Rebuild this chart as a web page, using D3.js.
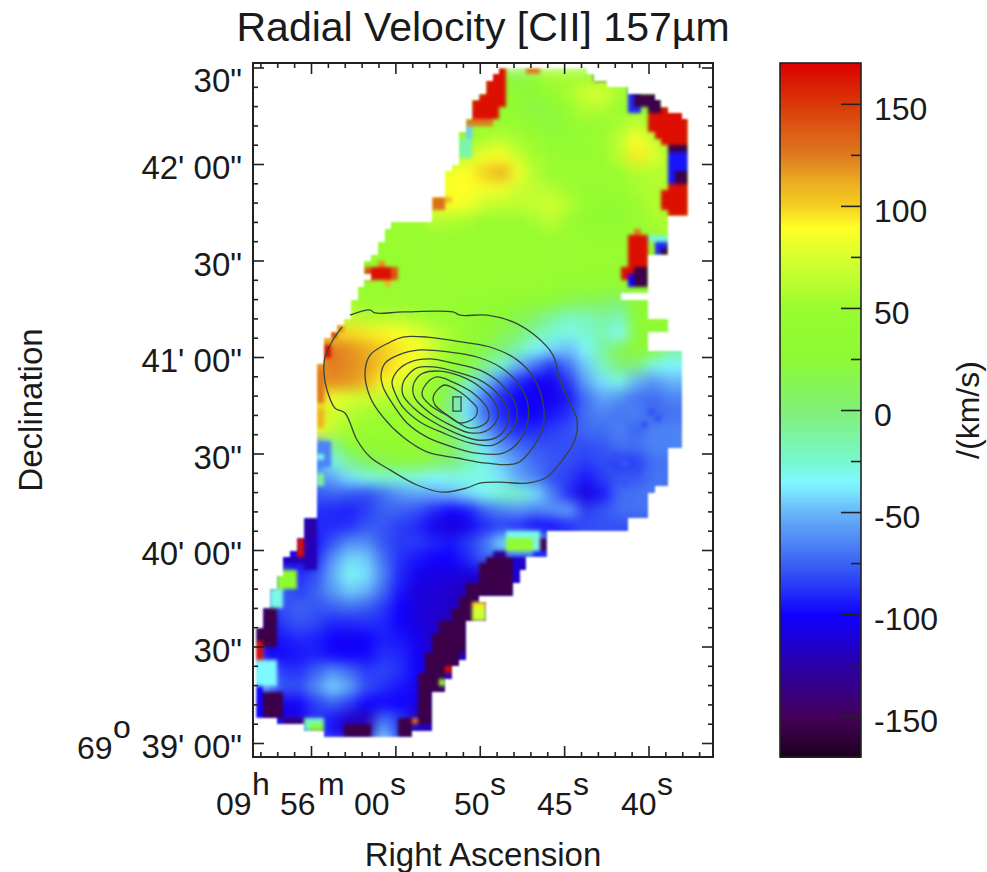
<!DOCTYPE html>
<html>
<head>
<meta charset="utf-8">
<script src="https://cdn.jsdelivr.net/npm/d3@7"></script>
<style>
  html, body { margin: 0; padding: 0; background: #fff; }
  text { font-family: "Liberation Sans", Arial, sans-serif; fill: #1a1a1a; }
</style>
</head>
<body>
<svg id="chart" width="987" height="872"></svg>
<script>
// colour table (km/s -> colour)
const colourStops = [-170, -150, -125, -100, -75, -50, -35, -25, 0, 25, 50, 75, 90, 100, 110, 125, 150, 170];
const colourValues = ["#1c001c", "#450058", "#2a00a8", "#1000ff", "#3a62f2", "#68b4f8", "#80f8ff", "#78f8d0", "#80f078", "#8cfa34", "#98fc30", "#d8ff30", "#ffff25", "#f4d020", "#eeb422", "#e07a20", "#d93a08", "#dd0000"];

const barTicks = [-150, -100, -50, 0, 50, 100, 150];
const barMinorTicks = [-125, -75, -25, 25, 75, 125];

// axis ticks: RA in seconds past 09h55m, Dec in arcsec past 69d39'
const raMajor = [60, 55, 50, 45, 40];
const decMajor = [0, 30, 60, 90, 120, 150, 180, 210];
const raTickLabels = [
    { ra: 60, parts: [["09", 0], ["h", 1], ["56", 0], ["m", 1], ["00", 0], ["s", 1]] },
    { ra: 50, parts: [["50", 0], ["s", 1]] },
    { ra: 45, parts: [["45", 0], ["s", 1]] },
    { ra: 40, parts: [["40", 0], ["s", 1]] }
];
const decTickLabels = ["39' 00\"", "30\"", "40' 00\"", "30\"", "41' 00\"", "30\"", "42' 00\"", "30\""];

// smooth part of the velocity map, cells of 1s x 5", top row first
const velocityField = [
    [45,45,45,45,45,45,45,45,45,45,45,45,45,45,40,15,40,55,55,50,45,45,45,45,45,45],
    [45,45,45,45,45,45,45,45,45,45,45,45,45,45,35,30,25,45,55,72,75,55,45,45,45,45],
    [45,45,45,45,45,45,45,45,45,45,45,45,45,45,40,40,18,30,45,62,60,50,45,45,45,45],
    [40,40,40,40,40,40,40,40,40,40,40,40,40,45,50,45,35,20,35,45,48,55,70,50,50,50],
    [50,50,50,50,50,50,50,50,50,50,50,50,50,60,65,55,50,35,35,45,50,65,90,70,55,55],
    [60,60,60,60,60,60,60,60,60,60,60,60,70,85,90,70,55,50,45,45,50,65,95,80,60,60],
    [85,85,85,85,85,85,85,85,85,85,85,85,90,100,112,85,60,50,50,50,50,50,60,60,60,60],
    [75,75,75,75,75,75,75,75,75,75,75,90,90,85,85,70,65,60,52,45,45,50,55,60,60,60],
    [80,80,80,80,80,80,80,80,80,80,80,88,85,70,65,65,68,72,60,45,35,40,50,60,60,60],
    [48,48,48,48,48,48,48,48,48,50,60,60,55,50,50,50,55,65,50,40,35,40,45,55,60,60],
    [50,50,50,50,50,50,50,50,50,50,50,50,50,48,48,48,48,48,48,48,45,45,45,50,55,55],
    [48,48,48,48,48,48,48,48,48,48,48,48,48,48,48,48,48,48,48,48,48,48,48,48,48,48],
    [48,48,48,48,48,48,48,48,48,48,48,48,48,48,48,48,48,48,48,48,48,48,48,48,48,48],
    [50,50,50,50,50,50,50,50,50,48,48,48,48,48,48,48,48,45,42,40,40,35,35,35,35,35],
    [55,55,55,55,55,55,50,50,48,48,48,48,45,45,40,35,30,25,15,15,10,5,25,35,35,35],
    [65,65,65,65,65,65,60,60,60,55,50,45,40,30,25,15,5,-10,-20,-20,-10,-20,25,35,35,35],
    [100,100,100,100,100,98,95,92,88,78,65,55,42,30,15,5,-12,-25,-30,-25,-15,-35,22,30,30,30],
    [125,125,125,125,125,120,112,102,95,88,70,50,30,15,0,-18,-35,-42,-48,-35,-12,15,25,25,-10,-10],
    [115,115,115,115,125,120,115,102,92,82,60,40,20,-5,-25,-50,-70,-88,-70,-45,-20,0,0,-30,-35,-35],
    [118,118,118,118,120,118,110,92,80,60,45,20,-15,-45,-70,-90,-100,-105,-85,-55,-40,-30,-50,-60,-50,-50],
    [105,105,105,105,85,75,70,65,60,55,35,0,-40,-70,-90,-100,-105,-105,-95,-70,-55,-60,-70,-72,-65,-65],
    [100,100,100,100,72,62,55,50,50,50,35,-5,-40,-70,-90,-98,-100,-95,-88,-70,-65,-70,-65,-75,-70,-70],
    [90,90,90,90,65,55,50,48,48,48,35,5,-25,-55,-78,-90,-90,-85,-80,-72,-72,-65,-75,-65,-65,-65],
    [-60,-60,-60,-60,-10,25,40,42,42,40,30,10,-15,-40,-60,-72,-78,-80,-80,-80,-78,-70,-70,-65,-65,-65],
    [-70,-70,-70,-70,-30,-10,8,15,20,20,10,0,-15,-30,-45,-60,-72,-78,-80,-85,-80,-85,-85,-70,-70,-70],
    [-60,-60,-60,-60,-55,-40,-30,-25,-28,-30,-35,-32,-30,-30,-40,-55,-65,-80,-85,-95,-85,-78,-78,-70,-70,-70],
    [-78,-78,-78,-78,-75,-78,-82,-72,-60,-55,-55,-50,-42,-32,-25,-22,-40,-65,-90,-110,-95,-72,-70,-68,-68,-68],
    [-88,-88,-88,-88,-90,-92,-85,-75,-75,-80,-90,-100,-95,-75,-65,-60,-65,-60,-55,-85,-78,-72,-70,-70,-70,-70],
    [-90,-90,-90,-90,-90,-88,-78,-78,-85,-90,-105,-110,-105,-90,-85,-90,-100,-100,-90,-80,-80,-80,-80,-80,-80,-80],
    [-100,-100,-100,-95,-78,-62,-62,-78,-85,-85,-90,-95,-85,-70,-40,-30,-30,-60,-80,-80,-80,-80,-80,-80,-80,-80],
    [-110,-110,-110,-90,-60,-42,-45,-70,-88,-95,-100,-100,-90,-75,-75,-75,-75,-75,-75,-75,-75,-75,-75,-75,-75,-75],
    [-80,-80,-90,-80,-52,-32,-40,-65,-90,-105,-108,-108,-110,-110,-110,-110,-110,-110,-110,-110,-110,-110,-110,-110,-110,-110],
    [-75,-75,-85,-75,-58,-45,-50,-72,-95,-110,-112,-115,-120,-120,-120,-120,-120,-120,-120,-120,-120,-120,-120,-120,-120,-120],
    [-85,-80,-75,-78,-75,-70,-75,-85,-100,-110,-112,-115,-115,-115,-115,-115,-115,-115,-115,-115,-115,-115,-115,-115,-115,-115],
    [-100,-85,-78,-82,-90,-90,-88,-90,-100,-108,-115,-125,-125,-125,-125,-125,-125,-125,-125,-125,-125,-125,-125,-125,-125,-125],
    [-110,-95,-90,-92,-100,-105,-100,-92,-95,-105,-115,-120,-120,-120,-120,-120,-120,-120,-120,-120,-120,-120,-120,-120,-120,-120],
    [-105,-98,-95,-92,-98,-100,-98,-88,-90,-102,-115,-120,-120,-120,-120,-120,-120,-120,-120,-120,-120,-120,-120,-120,-120,-120],
    [-60,-85,-88,-75,-62,-72,-85,-82,-88,-100,-115,-120,-120,-120,-120,-120,-120,-120,-120,-120,-120,-120,-120,-120,-120,-120],
    [-50,-78,-80,-62,-42,-55,-80,-88,-95,-105,-110,-110,-110,-110,-110,-110,-110,-110,-110,-110,-110,-110,-110,-110,-110,-110],
    [-95,-105,-100,-85,-75,-85,-100,-100,-100,-105,-110,-110,-110,-110,-110,-110,-110,-110,-110,-110,-110,-110,-110,-110,-110,-110],
    [-100,-110,-110,-85,-95,-115,-120,-70,-85,-120,-120,-120,-120,-120,-120,-120,-120,-120,-120,-120,-120,-120,-120,-120,-120,-120],
    [-80,-80,-80,-80,-95,-120,-125,-45,-85,-120,-120,-120,-120,-120,-120,-120,-120,-120,-120,-120,-120,-120,-120,-120,-120,-120]
];

// where the map has data, first and end column per row (cells of 0.4s x 2")
const maskLeft = [36,35,34,34,33,32,32,32,31,31,30,30,30,30,30,29,28,28,28,28,26,26,26,26,20,19,19,18,18,17,16,16,17,16,15,15,14,14,14,13,12,11,10,10,10,10,9,9,9,9,9,9,9,9,9,9,9,9,9,9,9,9,9,9,9,9,9,9,9,9,7,7,7,6,6,5,4,4,4,3,3,2,2,2,1,1,1,0,0,0,0,0,0,0,0,0,0,0,0,0,0,3,7,10];
const maskRight = [49,50,52,55,59,60,61,63,64,64,64,64,64,64,64,64,64,64,64,64,64,64,64,61,61,61,61,61,61,58,58,58,58,58,58,54,58,58,58,61,61,58,58,58,63,63,63,63,63,63,63,63,63,63,63,63,63,63,63,61,61,61,61,61,61,59,58,58,58,58,55,55,43,43,43,43,40,40,39,39,38,38,33,34,34,34,31,31,31,31,31,31,30,29,29,28,28,26,26,26,26,26,26,23];

// noisy cells along the map edge: [col0, col1, row0, row1, km/s]
const edgeCells = [
    [52,53,62,63,-80],[53,54,60,61,-80],[54,55,64,65,-78],[56,57,62,63,-80],[57,58,55,56,-78],[58,59,53,54,-78],[59,60,54,55,-78],[54,55,61,62,-78],
    [35,37,0,2,165],[34,37,1,4,165],[33,37,4,6,165],[32,36,5,8,165],[31,35,8,9,125],
    [31,32,9,11,-45],[30,32,11,14,-15],[40,42,0,1,125],[50,52,1,2,-155],
    [55,57,3,7,-90],[56,60,4,6,-155],[58,60,6,7,-155],
    [60,64,6,8,165],[58,64,7,10,165],[59,64,10,11,165],[60,64,11,12,165],[61,64,12,13,-155],
    [61,64,13,18,-95],[62,64,16,18,-155],[61,64,18,19,165],[60,64,19,22,165],[61,64,22,23,165],
    [55,58,26,31,165],[56,57,25,26,125],[54,57,31,33,165],[56,58,31,34,-155],[55,56,32,34,-100],
    [58,61,26,27,-25],[59,61,27,29,-90],[60,61,28,29,-155],
    [16,21,31,33,140],[17,20,31,33,165],[18,19,30,31,120],[19,20,33,34,110],
    [26,28,20,22,130],[28,29,20,21,105],
    [10,11,43,45,165],[11,12,41,42,150],[12,13,40,41,120],[9,10,47,52,125],[9,10,53,56,110],
    [9,11,58,62,-65],[9,10,60,61,-30],[9,10,63,65,-10],
    [7,9,70,73,-125],[6,7,73,76,165],[7,9,73,78,-120],[4,7,76,77,-120],
    [3,6,78,81,30],[2,4,81,84,-30],[1,3,84,88,-155],[0,3,87,90,-155],[0,1,89,92,165],
    [0,3,92,96,-35],[0,1,96,101,-100],[1,4,97,101,-155],[4,7,101,102,-140],
    [7,10,101,103,-20],[8,10,102,103,30],
    [13,17,102,104,-155],[21,23,101,104,-155],[23,26,101,102,130],
    [34,38,76,80,-155],[35,37,75,76,-130],[33,38,77,80,-155],[31,38,80,82,-155],[30,33,82,84,-155],
    [29,32,84,86,-155],[27,31,86,88,-155],[26,31,88,91,-155],[25,30,91,94,-155],[24,28,94,97,-155],
    [24,26,97,101,-155],[24,26,101,102,-155],
    [32,34,83,84,95],[32,34,84,86,72],[28,29,93,94,165],[27,28,95,96,50],
    [37,42,72,75,-30],[37,41,73,75,40],[42,43,73,75,-150],[41,43,75,76,-90],
    [38,39,76,80,-110],[39,40,76,78,-120]
];

// flux contours as [RA s, Dec arcsec]
const outerContour = [[57.69,133.0],[56.50,134.6],[56.21,133.7],[54.55,134.0],[51.59,134.0],[51.17,133.0],[49.57,133.0],[48.03,130.9],[46.61,126.2],[45.66,120.6],[45.24,112.8],[44.65,105.7],[44.24,100.4],[44.36,94.2],[45.24,87.0],[46.01,82.7],[47.20,80.8],[48.80,81.1],[49.99,80.8],[50.76,79.3],[52.24,78.0],[53.72,80.2],[55.32,84.9],[56.50,88.9],[57.27,94.2],[57.99,102.6],[58.58,104.1],[59.05,109.7],[59.23,115.0],[59.17,120.0],[58.70,125.3],[58.16,129.3]];
const contourTwo = [[55.32,124.6],[54.55,126.2],[53.13,126.2],[50.99,124.6],[49.21,122.8],[47.79,119.1],[46.84,113.8],[46.25,105.7],[46.25,98.2],[46.84,92.0],[47.79,87.0],[49.57,87.0],[51.35,88.6],[53.13,90.5],[54.55,95.1],[55.73,101.3],[56.50,107.6],[56.80,115.0],[56.50,120.6]];
const contourThree = [[54.84,120.6],[53.54,122.2],[51.76,121.5],[50.16,120.0],[48.80,116.9],[47.79,112.2],[47.20,106.6],[47.14,100.4],[47.61,94.2],[48.62,90.1],[50.16,90.1],[51.59,92.0],[53.13,95.1],[54.31,99.5],[55.20,105.7],[55.73,110.7],[55.85,114.4],[55.61,118.1]];
const contourFour = [[54.13,118.4],[52.95,119.4],[51.59,118.1],[49.99,115.9],[48.80,111.9],[47.91,105.7],[47.79,101.0],[48.21,96.4],[49.21,92.6],[50.58,93.3],[52.18,96.4],[53.54,99.8],[54.55,104.4],[55.02,108.8],[55.20,112.2],[54.84,115.9]];
const contourFive = [[53.72,116.6],[52.77,116.9],[51.35,115.3],[49.99,112.8],[48.98,108.8],[48.33,103.5],[48.33,99.5],[48.98,95.1],[50.16,94.2],[51.59,96.7],[52.95,100.4],[53.96,104.4],[54.55,108.2],[54.55,111.9],[54.25,114.4]];
const contourSix = [[53.36,115.0],[52.36,115.6],[51.17,114.1],[49.99,110.7],[49.10,105.7],[48.92,101.3],[49.51,97.3],[50.58,96.4],[51.76,98.9],[52.95,102.6],[53.84,107.2],[53.96,110.7],[53.72,113.5]];
const contourSeven = [[52.53,113.8],[51.59,112.2],[50.40,108.8],[49.51,103.5],[49.57,99.8],[50.58,97.9],[51.76,101.3],[52.95,105.1],[53.42,108.2],[53.13,111.9]];
const contourEight = [[52.06,111.3],[51.17,109.1],[50.40,105.7],[50.16,104.1],[50.28,101.3],[51.17,99.5],[51.94,102.0],[52.65,105.1],[52.77,107.2],[52.47,110.0]];
const contourPeak = [[51.59,107.6],[51.11,107.6],[51.11,103.2],[51.59,103.2]];

const svg = d3.select("#chart");

const plot = { left: 253, right: 713, top: 63, bottom: 757 };
const xRa = d3.scaleLinear().domain([60, 40]).range([311, 648.5]);
const yDec = d3.scaleLinear().domain([0, 180]).range([743, 164]);
const colour = d3.scaleLinear().domain(colourStops).range(colourValues).clamp(true);

const raStart = xRa.invert(256.5);
const decStart = yDec.invert(68);
const fineCol = i => Math.round(xRa(raStart - i * 0.4));
const fineRow = i => Math.round(yDec(decStart - i * 2));

const defs = svg.append("defs");
function addBlur(id, sd) {
    defs.append("filter").attr("id", id)
        .attr("filterUnits", "userSpaceOnUse")
        .attr("x", 0).attr("y", 0).attr("width", 987).attr("height", 872)
        .attr("color-interpolation-filters", "sRGB")
        .append("feGaussianBlur").attr("stdDeviation", sd);
}
addBlur("blurWide", 6.5);
addBlur("blurSoft", 1.4);
addBlur("blurSoftEdge", 0.8);

const clip = defs.append("clipPath").attr("id", "mapMask");
clip.selectAll("rect")
    .data(maskLeft.map((l, i) => ({ row: i, l, r: maskRight[i] })))
    .enter().append("rect")
    .attr("shape-rendering", "crispEdges")
    .attr("x", d => fineCol(d.l))
    .attr("y", d => fineRow(d.row))
    .attr("width", d => fineCol(d.r) - fineCol(d.l))
    .attr("height", d => fineRow(d.row + 1) - fineRow(d.row));

// map: smooth field first, then the edge cells, all cut to the mask
const softEdge = svg.append("g").attr("filter", "url(#blurSoftEdge)");
const mapGroup = softEdge.append("g").attr("clip-path", "url(#mapMask)");
const fieldGroup = mapGroup.append("g").attr("filter", "url(#blurWide)");

velocityField.forEach((row, r) => {
    row.forEach((v, c) => {
        fieldGroup.append("rect")
            .attr("x", xRa(raStart - c))
            .attr("y", yDec(decStart - r * 5))
            .attr("width", xRa(raStart - c - 1) - xRa(raStart - c) + 0.5)
            .attr("height", yDec(decStart - (r + 1) * 5) - yDec(decStart - r * 5) + 0.5)
            .attr("fill", colour(v));
    });
});

mapGroup.append("g").attr("filter", "url(#blurSoft)")
    .selectAll("rect")
    .data(edgeCells)
    .enter().append("rect")
    .attr("x", d => fineCol(d[0]))
    .attr("y", d => fineRow(d[2]))
    .attr("width", d => fineCol(d[1]) - fineCol(d[0]))
    .attr("height", d => fineRow(d[3]) - fineRow(d[2]))
    .attr("fill", d => colour(d[4]));

// contours
const contourLine = d3.line().x(d => xRa(d[0])).y(d => yDec(d[1]));
const contourGroup = svg.append("g")
    .attr("fill", "none")
    .attr("stroke", "#36463e")
    .attr("stroke-width", 1.3);
contourGroup.append("path").attr("d", contourLine.curve(d3.curveCatmullRom)(outerContour));
[contourTwo, contourThree, contourFour, contourFive, contourSix, contourSeven, contourEight].forEach(c => {
    contourGroup.append("path").attr("d", contourLine.curve(d3.curveCatmullRomClosed)(c));
});
contourGroup.append("path").attr("d", contourLine.curve(d3.curveLinearClosed)(contourPeak));

// frame and ticks
svg.append("rect")
    .attr("x", plot.left).attr("y", plot.top)
    .attr("width", plot.right - plot.left).attr("height", plot.bottom - plot.top)
    .attr("fill", "none").attr("stroke", "#222").attr("stroke-width", 2);

const raMinor = d3.range(37, 64).filter(s => !raMajor.includes(s));
const decMinor = d3.range(0, 211, 6).filter(s => !decMajor.includes(s));

function addTicks(axis, pos, major, minor, majorLen, minorLen) {
    const g = svg.append("g").attr("transform", pos);
    g.append("g").call(axis.tickValues(minor).tickSize(minorLen).tickFormat(""));
    g.append("g").call(axis.tickValues(major).tickSize(majorLen).tickFormat(""));
    g.selectAll(".domain").remove();
    g.selectAll("line").attr("stroke", "#222").attr("stroke-width", 1.6);
}
addTicks(d3.axisBottom(xRa), `translate(0,${plot.bottom})`, raMajor, raMinor, -11, -5);
addTicks(d3.axisTop(xRa), `translate(0,${plot.top})`, raMajor, raMinor, -11, -5);
addTicks(d3.axisLeft(yDec), `translate(${plot.left},0)`, decMajor, decMinor, -11, -5);
addTicks(d3.axisRight(yDec), `translate(${plot.right},0)`, decMajor, decMinor, -11, -5);

// tick labels
const fontSize = 32;
decMajor.forEach((d, i) => {
    svg.append("text")
        .attr("x", 242)
        .attr("y", yDec(d) + (d === 210 ? 24 : 15))
        .attr("text-anchor", "end")
        .style("font-size", "33px")
        .text(decTickLabels[i]);
});
svg.append("text").attr("x", 77).attr("y", 759).style("font-size", fontSize + "px").text("69");
svg.append("text").attr("x", 113).attr("y", 738).style("font-size", fontSize + "px").text("o");

const raOffsets = { 60: [216, 252, 280, 318, 354, 390], 50: [454, 490], 45: [537, 573], 40: [621, 657] };
raTickLabels.forEach(t => {
    t.parts.forEach((p, i) => {
        svg.append("text")
            .attr("x", raOffsets[t.ra][i])
            .attr("y", p[1] ? 795 : 815)
            .style("font-size", fontSize + "px")
            .text(p[0]);
    });
});

// titles
svg.append("text").attr("x", 483).attr("y", 41).attr("text-anchor", "middle")
    .style("font-size", "41px").text("Radial Velocity [CII] 157µm");
svg.append("text").attr("x", 483).attr("y", 866).attr("text-anchor", "middle")
    .style("font-size", "33px").text("Right Ascension");
svg.append("text").attr("transform", "translate(42,410) rotate(-90)").attr("text-anchor", "middle")
    .style("font-size", "33px").text("Declination");

// colour bar
const barY = d3.scaleLinear().domain([-170, 170]).range([757, 63]);
svg.append("g").selectAll("rect")
    .data(d3.range(-170, 170, 1))
    .enter().append("rect")
    .attr("shape-rendering", "crispEdges")
    .attr("x", 780).attr("width", 81)
    .attr("y", d => barY(d + 1))
    .attr("height", d => barY(d) - barY(d + 1) + 1)
    .attr("fill", d => colour(d + 0.5));
svg.append("rect").attr("x", 780).attr("y", 63).attr("width", 81).attr("height", 694)
    .attr("fill", "none").attr("stroke", "#222").attr("stroke-width", 1.6);

const barAxis = d3.axisRight(barY);
const barTickGroup = svg.append("g").attr("transform", "translate(861,0)");
barTickGroup.append("g").call(barAxis.tickValues(barMinorTicks).tickSize(-10).tickFormat(""));
barTickGroup.append("g").call(barAxis.tickValues(barTicks).tickSize(-20).tickFormat(""));
barTickGroup.selectAll(".domain").remove();
barTickGroup.selectAll("line").attr("stroke", "#222").attr("stroke-width", 1.6);

barTicks.forEach(t => {
    svg.append("text")
        .attr("x", 874)
        .attr("y", barY(t) + 16)
        .style("font-size", fontSize + "px")
        .text(t);
});
svg.append("text").attr("transform", "translate(979,410) rotate(-90)").attr("text-anchor", "middle")
    .style("font-size", "32px").text("/(km/s)");
</script>
</body>
</html>
